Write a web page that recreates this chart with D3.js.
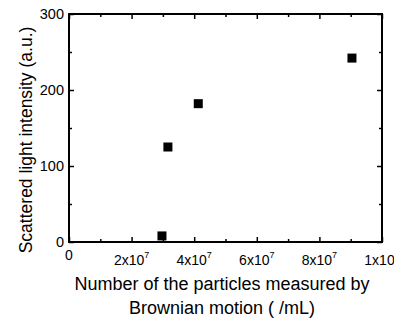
<!DOCTYPE html>
<html>
<head>
<meta charset="utf-8">
<script src="https://cdn.jsdelivr.net/npm/d3@7"></script>
<style>
  body { margin: 0; background: #fff; }
  svg { display: block; font-family: Arial, "Liberation Sans", sans-serif; }
</style>
</head>
<body>
<div id="vis"></div>
<script>
const FRAME_WIDTH = 399;
const FRAME_HEIGHT = 320;
const MARGINS = {left: 69, right: 17, top: 14, bottom: 78};

const VIS_WIDTH = FRAME_WIDTH - MARGINS.left - MARGINS.right;
const VIS_HEIGHT = FRAME_HEIGHT - MARGINS.top - MARGINS.bottom;

// data
const particles = [2.97e7, 3.16e7, 4.13e7, 9.04e7];
const intensity = [8, 125, 182, 242];

const xMajor = [0, 2e7, 4e7, 6e7, 8e7, 1e8];
const xMinor = [1e7, 3e7, 5e7, 7e7, 9e7];
const xLabels = [["0", ""], ["2x10", "7"], ["4x10", "7"], ["6x10", "7"], ["8x10", "7"], ["1x10", "8"]];
const yMajor = [0, 100, 200, 300];
const yMinor = [50, 150, 250];

const FRAME = d3.select("#vis")
  .append("svg")
    .attr("width", FRAME_WIDTH)
    .attr("height", FRAME_HEIGHT);

// the original picture is cut off just after "1x10"
FRAME.append("clipPath")
  .attr("id", "crop")
  .append("rect")
    .attr("x", 0).attr("y", 0)
    .attr("width", 394).attr("height", FRAME_HEIGHT);

const X_SCALE = d3.scaleLinear().domain([0, 1e8]).range([0, VIS_WIDTH]);
const Y_SCALE = d3.scaleLinear().domain([0, 300]).range([VIS_HEIGHT, 0]);

const G = FRAME.append("g")
  .attr("transform", "translate(" + MARGINS.left + "," + MARGINS.top + ")");

// inward ticks on all four sides
function tickAxis(axisFn, scale, vals, size, transform) {
  G.append("g")
    .attr("transform", transform)
    .call(axisFn(scale).tickValues(vals).tickSizeInner(-size).tickSizeOuter(0).tickFormat(""))
    .call(g => g.select(".domain").remove())
    .call(g => g.selectAll("line").attr("stroke", "#000").attr("stroke-width", 1.5));
}
tickAxis(d3.axisBottom, X_SCALE, xMajor, 5, "translate(0," + VIS_HEIGHT + ")");
tickAxis(d3.axisBottom, X_SCALE, xMinor, 3, "translate(0," + VIS_HEIGHT + ")");
tickAxis(d3.axisTop, X_SCALE, xMajor, 5, "translate(0,0)");
tickAxis(d3.axisTop, X_SCALE, xMinor, 3, "translate(0,0)");
tickAxis(d3.axisLeft, Y_SCALE, yMajor, 5, "translate(0,0)");
tickAxis(d3.axisLeft, Y_SCALE, yMinor, 3, "translate(0,0)");
tickAxis(d3.axisRight, Y_SCALE, yMajor, 5, "translate(" + VIS_WIDTH + ",0)");
tickAxis(d3.axisRight, Y_SCALE, yMinor, 3, "translate(" + VIS_WIDTH + ",0)");

// frame
G.append("rect")
  .attr("x", 0).attr("y", 0)
  .attr("width", VIS_WIDTH).attr("height", VIS_HEIGHT)
  .attr("fill", "none").attr("stroke", "#000").attr("stroke-width", 2);

// y tick labels
G.selectAll(".ylab")
  .data(yMajor)
  .enter()
  .append("text")
    .attr("x", -5)
    .attr("y", d => Y_SCALE(d))
    .attr("dy", "0.36em")
    .attr("text-anchor", "end")
    .attr("font-size", "14.5px")
    .text(d => d);

// x tick labels with superscripts
const XLAB = FRAME.append("g")
  .attr("clip-path", "url(#crop)")
  .append("g")
  .attr("transform", "translate(" + MARGINS.left + "," + MARGINS.top + ")");

const xl = XLAB.selectAll(".xlab")
  .data(xMajor)
  .enter()
  .append("text")
    .attr("x", d => X_SCALE(d))
    .attr("y", (d, i) => VIS_HEIGHT + (i === 0 ? 18 : 23))
    .attr("text-anchor", "middle")
    .attr("font-size", "14px");
xl.append("tspan").text((d, i) => xLabels[i][0]);
xl.append("tspan")
  .attr("dy", "-7")
  .attr("font-size", "9px")
  .text((d, i) => xLabels[i][1]);

// points
G.selectAll(".point")
  .data(particles)
  .enter()
  .append("rect")
    .attr("x", d => X_SCALE(d) - 4.5)
    .attr("y", (d, i) => Y_SCALE(intensity[i]) - 4.5)
    .attr("width", 9)
    .attr("height", 9)
    .attr("fill", "#000");

// axis titles
const xt = FRAME.append("text")
  .attr("text-anchor", "middle")
  .attr("font-size", "18px");
xt.append("tspan").attr("x", 222).attr("y", 290).text("Number of the particles measured by");
xt.append("tspan").attr("x", 222).attr("y", 314).text("Brownian motion ( /mL)");

FRAME.append("text")
  .attr("transform", "translate(32,140) rotate(-90)")
  .attr("text-anchor", "middle")
  .attr("font-size", "17.5px")
  .text("Scattered light intensity (a.u.)");
</script>
</body>
</html>
